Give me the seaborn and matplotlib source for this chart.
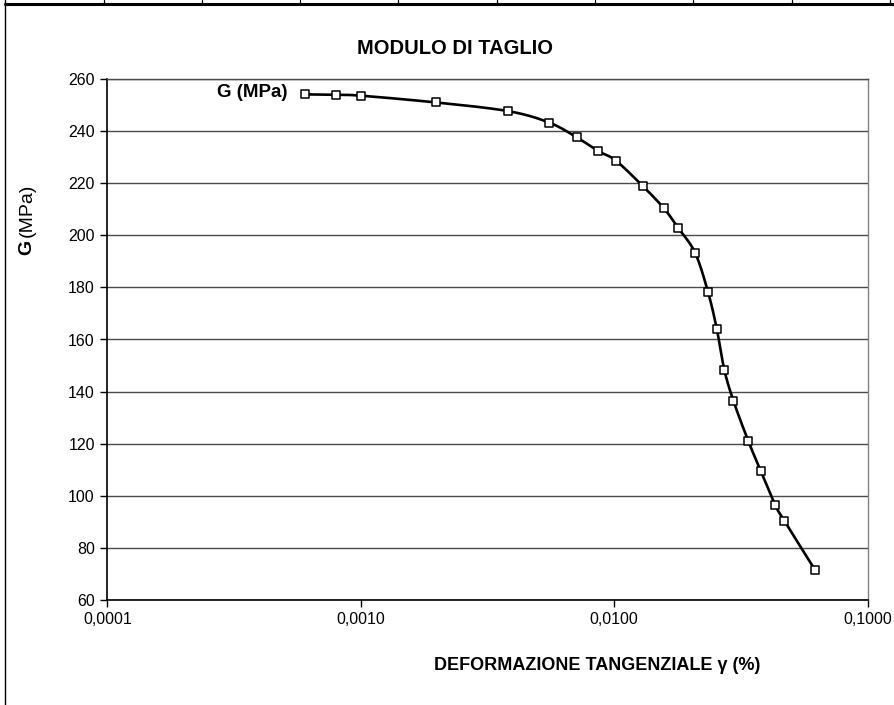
import numpy as np
import pandas as pd
import matplotlib
matplotlib.use("Agg")
import matplotlib.pyplot as plt
from matplotlib.lines import Line2D
import seaborn as sns

# Shear strain (%) and shear modulus G (MPa) from the resonant-column test
strain_pct = [0.00060, 0.00080, 0.00100, 0.00198, 0.00380, 0.00553,
              0.00712, 0.00866, 0.01015, 0.01300, 0.01570, 0.01793,
              0.02086, 0.02348, 0.02540, 0.02722, 0.02954, 0.03377,
              0.03790, 0.04315, 0.04695, 0.06206]
shear_modulus = [254.1, 253.9, 253.6, 251.0, 247.7, 243.3,
                 237.6, 232.3, 228.7, 218.8, 210.4, 202.7,
                 193.3, 178.1, 164.1, 148.3, 136.5, 121.2,
                 109.5, 96.5, 90.4, 71.5]
series_name = "G (MPa)"

chart_title = "MODULO DI TAGLIO"
x_title = "DEFORMAZIONE TANGENZIALE γ (%)"
x_ticks = [0.0001, 0.001, 0.01, 0.1]
x_tick_labels = ["0,0001", "0,0010", "0,0100", "0,1000"]
y_ticks = list(range(60, 261, 20))

sns.set_theme(style="white")
plt.rcParams["font.family"] = ["Liberation Sans", "DejaVu Sans"]

W, H = 895, 705
fig = plt.figure(figsize=(W / 100, H / 100), dpi=100)
fig.patch.set_facecolor("white")


def fx(px):
    return px / W


def fy(py):
    return 1 - py / H


left, right, top, bottom = 107.3, 867.6, 79, 600
ax = fig.add_axes([fx(left), fy(bottom), fx(right - left), (bottom - top) / H])
ax.set_facecolor("white")
ax.set_xscale("log")
ax.set_xlim(x_ticks[0], x_ticks[-1])
ax.set_ylim(y_ticks[0], y_ticks[-1])

df = pd.DataFrame({"gamma": strain_pct, "G": shear_modulus})


def smooth_path(xv, yv, axes, steps=30):
    """Bezier smoothing (Catmull-Rom style) computed in screen space."""
    trans = axes.transData
    pts = trans.transform(np.column_stack([xv, yv]))
    n = len(pts)
    out = []
    for i in range(n - 1):
        p0 = pts[max(i - 1, 0)]
        p1 = pts[i]
        p2 = pts[i + 1]
        p3 = pts[min(i + 2, n - 1)]
        c1 = p1 + (p2 - p0) / 6
        c2 = p2 - (p3 - p1) / 6
        t = np.linspace(0, 1, steps, endpoint=(i == n - 2))[:, None]
        seg = ((1 - t) ** 3) * p1 + 3 * (1 - t) ** 2 * t * c1 \
            + 3 * (1 - t) * t ** 2 * c2 + t ** 3 * p2
        out.append(seg)
    return trans.inverted().transform(np.vstack(out))


curve = smooth_path(df["gamma"].values, df["G"].values, ax)
sns.lineplot(x=curve[:, 0], y=curve[:, 1], sort=False, estimator=None,
             color="black", linewidth=1.9, ax=ax, zorder=2)
sns.scatterplot(data=df, x="gamma", y="G", marker="s", s=30,
                facecolor="white", edgecolor="black", linewidth=1.1,
                ax=ax, zorder=3, legend=False)

# series name label to the left of the first point
ax.annotate(series_name, xy=(strain_pct[0], shear_modulus[0]),
            xytext=(-12, 1), textcoords="offset points",
            ha="right", va="center", fontsize=13.5, fontweight="bold",
            color="black")

# gridlines and axes styling
ax.set_yticks(y_ticks)
ax.set_xticks(x_ticks)
ax.set_xticklabels(x_tick_labels)
ax.xaxis.set_minor_locator(matplotlib.ticker.NullLocator())
ax.yaxis.grid(True, color="#4a4a4a", linewidth=1.0)
ax.xaxis.grid(False)
ax.set_axisbelow(True)
ax.tick_params(axis="both", which="major", direction="out", length=5,
               width=1.0, color="black", labelsize=11.5, labelcolor="black",
               pad=4, left=True, bottom=True)
for side in ("left", "bottom"):
    ax.spines[side].set_color("black")
    ax.spines[side].set_linewidth(1.2)
ax.spines["top"].set_color("#4a4a4a")
ax.spines["top"].set_linewidth(1.0)
ax.spines["right"].set_color("#808080")
ax.spines["right"].set_linewidth(1.0)
ax.set_xlabel("")
ax.set_ylabel("")

# titles
fig.text(fx(455), fy(48), chart_title, ha="center", va="center",
         fontsize=14.5, fontweight="bold", color="black")
fig.text(fx(597), fy(665), x_title, ha="center", va="center",
         fontsize=13, fontweight="bold", color="black")
fig.text(fx(27), fy(255), "G", rotation=90, ha="center", va="bottom",
         fontsize=14, fontweight="bold", color="black")
fig.text(fx(27), fy(237), "(MPa)", rotation=90, ha="center", va="bottom",
         fontsize=14, color="black")

# worksheet border around the chart
fig.add_artist(Line2D([fx(5), fx(W)], [fy(4), fy(4)], color="black",
                      linewidth=2.2, transform=fig.transFigure))
fig.add_artist(Line2D([fx(5.5), fx(5.5)], [fy(0), fy(H)], color="black",
                      linewidth=1.0, transform=fig.transFigure))
for cx in [104, 202, 300, 398, 497, 595, 693, 792, 890]:
    fig.add_artist(Line2D([fx(cx), fx(cx)], [fy(0), fy(4)], color="black",
                          linewidth=0.9, transform=fig.transFigure))

fig.savefig("out.png", dpi=100, facecolor="white")
